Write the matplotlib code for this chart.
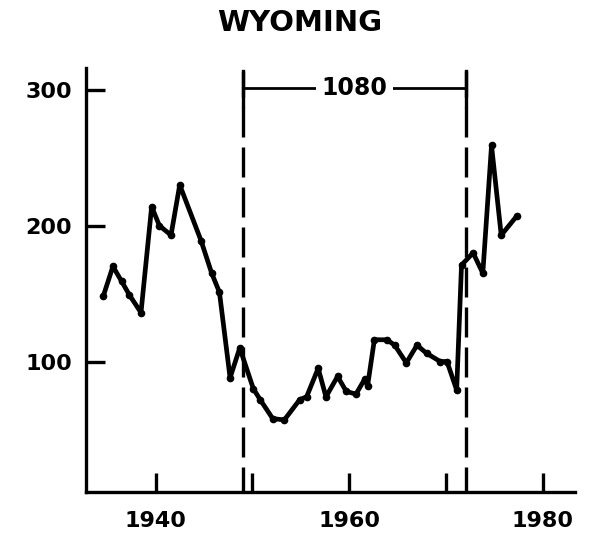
import matplotlib
matplotlib.use("Agg")
import matplotlib.pyplot as plt

# values (year, value)
years = [1934.6, 1935.6, 1936.5, 1937.3, 1938.5, 1939.6, 1940.4, 1941.6, 1942.5,
         1944.7, 1945.8, 1946.6, 1947.7, 1948.7, 1950.1, 1950.8, 1952.1, 1953.3,
         1954.9, 1955.6, 1956.8, 1957.6, 1958.8, 1959.7, 1960.7, 1961.6, 1961.9,
         1962.6, 1963.9, 1964.7, 1965.9, 1967.0, 1968.0, 1969.4, 1970.1, 1971.1,
         1971.6, 1972.8, 1973.8, 1974.7, 1975.7, 1977.3]
values = [148, 170, 159, 149, 136, 214, 200, 193, 230,
          189, 165, 151, 88, 110, 80, 72, 58, 57,
          72, 74, 95, 74, 89, 78, 76, 87, 82,
          116, 116, 112, 99, 112, 106, 100, 100, 79,
          171, 180, 165, 259, 193, 207]

period = [1949.0, 1972.1]
period_label = "1080"
ytick_vals = [100, 200, 300]
xtick_vals = [1940, 1950, 1960, 1970, 1980]
xtick_labels = ["1940", "", "1960", "", "1980"]

fig = plt.figure(figsize=(6, 5.4), dpi=100)
ax = fig.add_axes([0.143, 0.089, 0.815, 0.785])

ax.plot(years, values, color="black", linewidth=3.4, marker="o", markersize=4.5,
        solid_joinstyle="round", solid_capstyle="round")

for p in period:
    ax.plot([p, p], [0, 314], color="black", linewidth=2.4, linestyle=(0, (9, 3)))
    ax.plot([p, p], [288, 314], color="black", linewidth=2.4)

ax.plot(period, [301, 301], color="black", linewidth=2)
ax.text(sum(period) / 2, 301, period_label, ha="center", va="center",
        fontsize=17, fontweight="bold",
        bbox=dict(facecolor="white", edgecolor="none", pad=4))

ax.set_xlim(1932.8, 1983.3)
ax.set_ylim(4, 316)
ax.set_yticks(ytick_vals)
ax.set_yticklabels([str(v) for v in ytick_vals], fontsize=16, fontweight="bold")
ax.set_xticks(xtick_vals)
ax.set_xticklabels(xtick_labels, fontsize=16, fontweight="bold")
ax.tick_params(direction="in", length=14, width=2.4)
ax.tick_params(axis="x", pad=14)
ax.tick_params(axis="y", pad=10)

for s in ["top", "right"]:
    ax.spines[s].set_visible(False)
for s in ["left", "bottom"]:
    ax.spines[s].set_linewidth(2.4)

fig.text(0.5, 0.958, "WYOMING", ha="center", va="center", fontsize=21, fontweight="bold")

plt.savefig("out.png", dpi=100)
